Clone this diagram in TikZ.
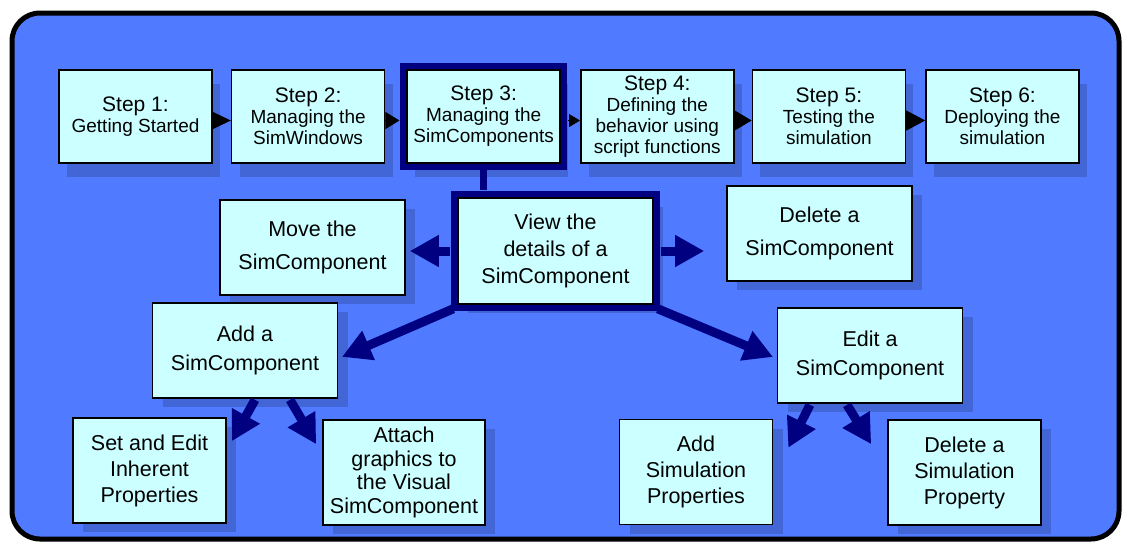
\documentclass[tikz,border=0pt]{standalone}
\usepackage{fontspec}
\setmainfont{Liberation Sans}
\usetikzlibrary{arrows.meta, positioning}
\definecolor{panelblue}{RGB}{80,122,255}
\definecolor{shadowblue}{RGB}{66,102,214}
\definecolor{boxcyan}{RGB}{204,255,255}
\definecolor{framenavy}{RGB}{0,0,128}
\newcommand{\steplabel}[1]{{\fontsize{21}{21}\selectfont Step #1:}}
\tikzset{
    panel/.style={draw=black, line width=5pt, fill=panelblue, rounded corners=28pt},
    castshadow/.style={preaction={draw=none, fill=shadowblue, transform canvas={shift={#1}}}},
    box/.style={rectangle, draw=black, line width=1.6pt, fill=boxcyan, align=center, inner sep=0pt},
    stepbox/.style={box, minimum width=153pt, minimum height=93pt,
        font=\fontsize{19}{21}\selectfont, castshadow={(8pt,-14pt)}},
    infobox/.style={box, minimum width=185pt, minimum height=95pt,
        font=\fontsize{21.5}{28.5}\selectfont, castshadow={(10pt,-9pt)}},
    leafbox/.style={box, minimum width=153pt, minimum height=105pt,
        font=\fontsize{21.5}{26}\selectfont, castshadow={(10pt,-9pt)}},
    current/.style={preaction={draw=framenavy, fill=none, line width=14pt}},
    steptip/.style 2 args={draw=black, line width=0.8pt, -{Triangle[length=#1, width=#2]}},
    bigarrow/.style={draw=framenavy, line width=9pt, -{Triangle[length=29pt, width=30pt]}},
    navyline/.style={draw=framenavy, line width=7pt}}

\begin{document}
\begin{tikzpicture}[x=1pt, y=-1pt, node distance=18pt]
\fill[white] (0,0) rectangle (1122,542);
\draw[panel] (12,13) rectangle (1119,539);

\node[stepbox] (s1) at (135.5,116.5) {\steplabel{1}\\Getting Started};
\node[stepbox] (s2) [right=of s1] {\steplabel{2}\\Managing the\\SimWindows};
\node[stepbox, current] (s3) [right=21pt of s2] {\steplabel{3}\\Managing the\\SimComponents};
\node[stepbox] (s4) [right=19pt of s3] {\steplabel{4}\\Defining the\\behavior using\\script functions};
\node[stepbox] (s5) [right=17pt of s4] {\steplabel{5}\\Testing the\\simulation};
\node[stepbox] (s6) [right=19pt of s5] {\steplabel{6}\\Deploying the\\simulation};

\node[infobox, current, minimum width=195pt, minimum height=106pt, font=\fontsize{21.5}{27}\selectfont] (view) at (555.5,251) {View the\\details of a\\SimComponent};
\node[infobox] (move) at (312.5,247.5) {Move the\\[5pt]SimComponent};
\node[infobox] (del) at (819.5,233.5) {Delete a\\[5pt]SimComponent};
\node[infobox] (add) at (245,350.5) {Add a\\SimComponent};
\node[infobox] (edit) at (870,355.5) {Edit a\\SimComponent};

\node[leafbox] (set) at (149.5,470.5) {Set and Edit\\Inherent\\Properties};
\node[leafbox, minimum width=162pt, font=\fontsize{21.5}{23.5}\selectfont] (attach) at (404,472.5) {Attach\\graphics to\\the Visual\\SimComponent};
\node[leafbox] (addprop) at (696,472) {Add\\Simulation\\Properties};
\node[leafbox] (delprop) at (964.5,472.5) {Delete a\\Simulation\\Property};

\path
    ([yshift=-4pt]s1.east) edge [steptip={18pt}{17pt}] ([yshift=-4pt]s2.west)
    ([yshift=-4pt]s2.east) edge [steptip={14pt}{17pt}, shorten >=7pt] ([yshift=-4pt]s3.west)
    ([yshift=-4pt]s3.east) edge [steptip={11pt}{13pt}, shorten <=7pt] ([yshift=-4pt]s4.west)
    ([yshift=-4pt]s4.east) edge [steptip={17pt}{20pt}] ([yshift=-4pt]s5.west)
    ([yshift=-4pt]s5.east) edge [steptip={19pt}{20pt}] ([yshift=-4pt]s6.west);

\draw[navyline, shorten <=6pt, shorten >=7pt] (s3.south) -- (s3.south |- view.north);

\draw[bigarrow, shorten <=7pt, shorten >=4pt] (view.west) -- (view.west -| move.east);
\draw[bigarrow, shorten <=7pt, shorten >=22pt] (view.east) -- (view.east -| del.west);
\draw[bigarrow, shorten >=4pt] ([shift={(-4pt,-4pt)}]view.south west) -- ([yshift=-8pt]add.east);
\draw[bigarrow, shorten >=4pt] ([shift={(4pt,-4pt)}]view.south east) -- ([yshift=-3pt]edit.west);

\draw[bigarrow] ([shift={(10pt,-1pt)}]add.south) -- ([shift={(5pt,-24pt)}]set.north east);
\draw[bigarrow] ([shift={(45pt,-1pt)}]add.south) -- ([shift={(-6pt,-25pt)}]attach.north west);
\draw[bigarrow] ([shift={(-60pt,-1pt)}]edit.south) -- ([shift={(15pt,-29pt)}]addprop.north east);
\draw[bigarrow] ([shift={(-23pt,-1pt)}]edit.south) -- ([shift={(-16pt,-25pt)}]delprop.north west);
\end{tikzpicture}
\end{document}
